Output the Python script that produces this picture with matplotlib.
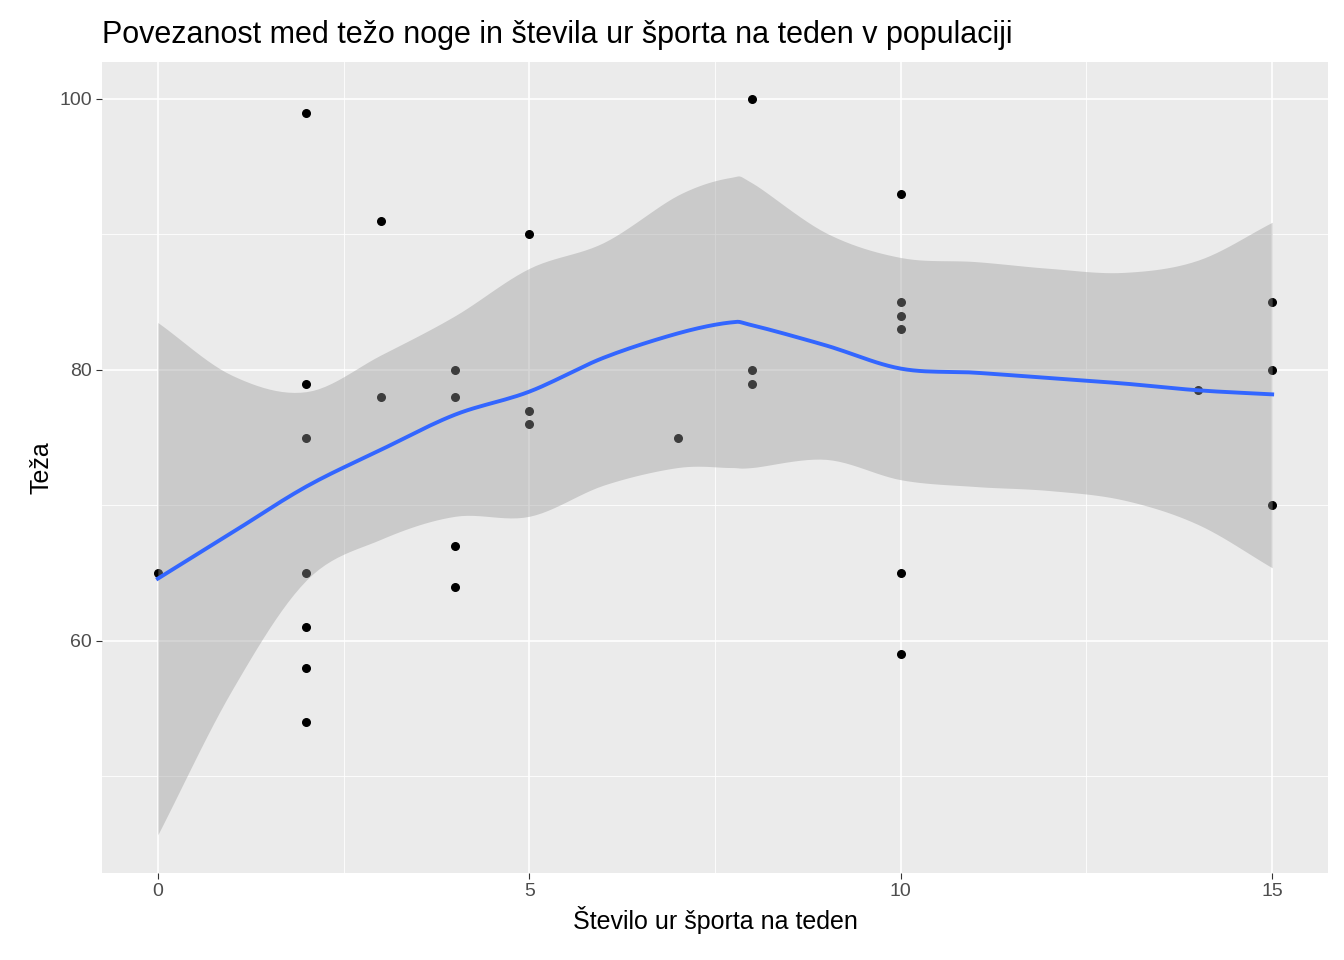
import numpy as np
import matplotlib
matplotlib.use("Agg")
import matplotlib.pyplot as plt

plt.rcParams['font.family'] = ['Liberation Sans', 'DejaVu Sans']

# points: hours of sport per week vs weight
ure = [0, 2, 2, 2, 2, 2, 2, 2, 3, 3, 4, 4, 4, 4, 5, 5, 5, 7, 8, 8, 8,
       10, 10, 10, 10, 10, 10, 14, 15, 15, 15]
teza = [65, 99, 79, 75, 65, 61, 58, 54, 91, 78, 80, 78, 67, 64, 90, 77, 76,
        75, 100, 80, 79, 93, 85, 84, 83, 65, 59, 78.5, 85, 80, 70]

# loess fit and confidence band
fit_x = [0, 1, 2, 3, 4, 5, 6, 7, 7.7, 8, 9, 10, 11, 12, 13, 14, 15]
fit_y = [64.6, 68.0, 71.4, 74.1, 76.7, 78.4, 80.9, 82.7, 83.5, 83.3, 81.8,
         80.1, 79.8, 79.4, 79.0, 78.5, 78.2]
fit_hi = [83.5, 79.6, 78.4, 81.1, 84.0, 87.5, 89.4, 92.9, 94.2, 93.8, 90.1,
          88.3, 88.0, 87.5, 87.2, 88.1, 90.9]
fit_lo = [45.7, 56.4, 64.5, 67.5, 69.2, 69.2, 71.5, 72.8, 72.8, 72.8, 73.4,
          71.9, 71.4, 71.1, 70.4, 68.6, 65.4]


def smooth(xs, ys, n=12):
    # Catmull-Rom curve through the points, for drawing only
    x = np.asarray(xs, float)
    y = np.asarray(ys, float)
    px = np.r_[2 * x[0] - x[1], x, 2 * x[-1] - x[-2]]
    py = np.r_[2 * y[0] - y[1], y, 2 * y[-1] - y[-2]]
    ox, oy = [], []
    t = np.linspace(0, 1, n, endpoint=False)
    for i in range(1, len(px) - 2):
        for arr, out in ((px, ox), (py, oy)):
            p0, p1, p2, p3 = arr[i - 1:i + 3]
            out.extend(0.5 * (2 * p1 + (-p0 + p2) * t
                              + (2 * p0 - 5 * p1 + 4 * p2 - p3) * t ** 2
                              + (-p0 + 3 * p1 - 3 * p2 + p3) * t ** 3))
    ox.append(x[-1])
    oy.append(y[-1])
    return np.array(ox), np.array(oy)


fig = plt.figure(figsize=(13.44, 9.6), dpi=100)
ax = fig.add_axes([0.076, 0.091, 0.912, 0.844])
ax.set_facecolor("#EBEBEB")
for s in ax.spines.values():
    s.set_visible(False)

for v in [2.5, 7.5, 12.5]:
    ax.axvline(v, color="white", lw=0.6, zorder=0)
for v in [50, 70, 90]:
    ax.axhline(v, color="white", lw=0.6, zorder=0)
ax.grid(True, color="white", lw=1.2, zorder=0)
ax.set_axisbelow(True)

ax.scatter(ure, teza, s=30, color="black", zorder=2)
sx, shi = smooth(fit_x, fit_hi)
_, slo = smooth(fit_x, fit_lo)
_, sy = smooth(fit_x, fit_y)
ax.fill_between(sx, slo, shi, color="#999999", alpha=0.4, lw=0, zorder=3)
ax.plot(sx, sy, color="#3366FF", lw=2.8, zorder=4)

ax.set_xlim(-0.75, 15.75)
ax.set_ylim(42.9, 102.7)
ax.set_xticks([0, 5, 10, 15])
ax.set_yticks([60, 80, 100])
ax.tick_params(labelsize=14, length=4, color="#333333", labelcolor="#4D4D4D")

ax.set_xlabel("Število ur športa na teden", fontsize=18)
ax.set_ylabel("Teža", fontsize=18)
ax.set_title("Povezanost med težo noge in števila ur športa na teden v populaciji",
             fontsize=22, loc="left", pad=14)

fig.savefig("out.png", dpi=100)
